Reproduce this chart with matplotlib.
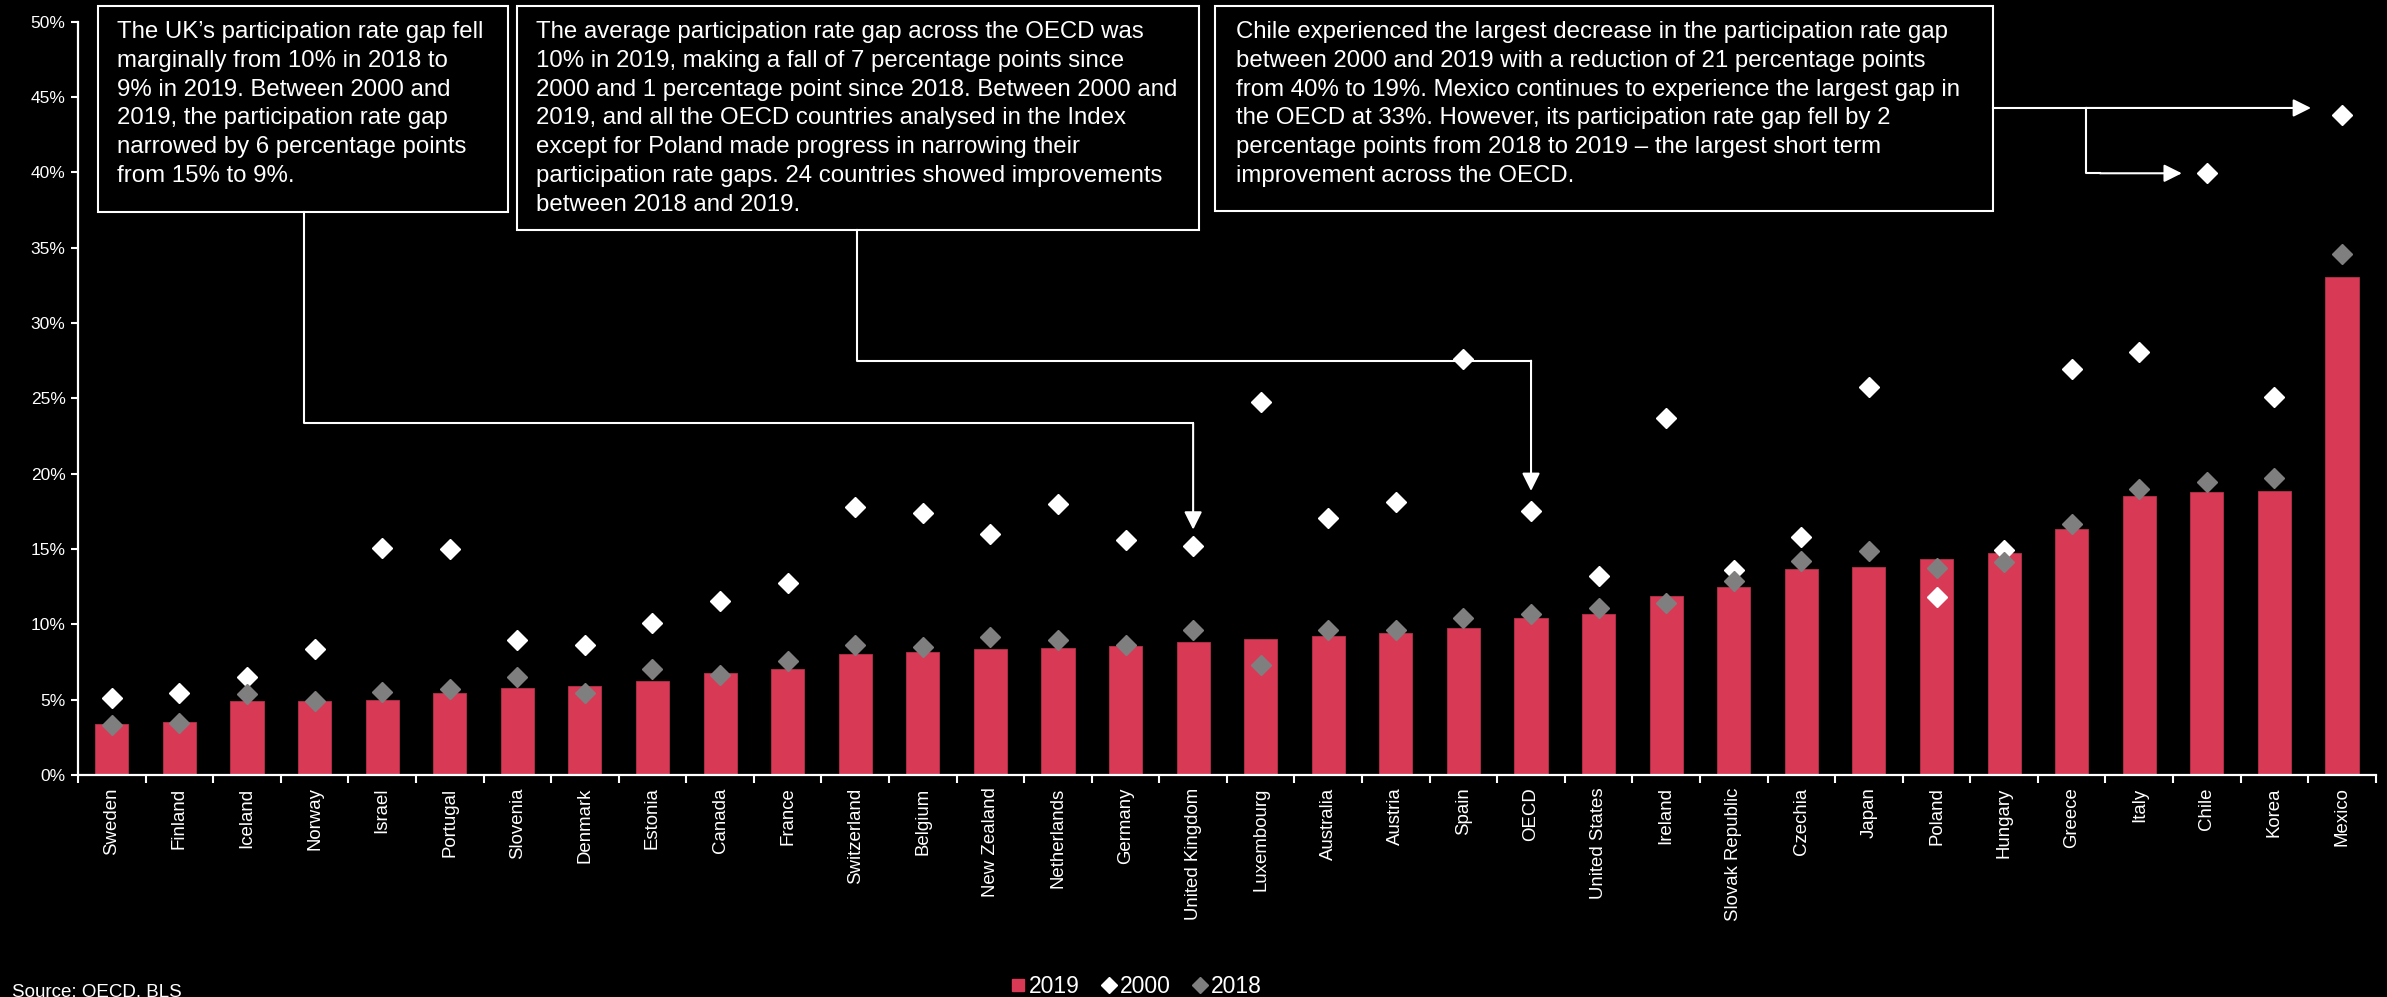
import numpy as np
import matplotlib
matplotlib.use("Agg")
import matplotlib.pyplot as plt
from matplotlib.lines import Line2D
from matplotlib.patches import Rectangle, FancyArrowPatch

plt.rcParams['font.family'] = ['Liberation Sans', 'DejaVu Sans']

countries = ['Sweden', 'Finland', 'Iceland', 'Norway', 'Israel', 'Portugal', 'Slovenia', 'Denmark',
             'Estonia', 'Canada', 'France', 'Switzerland', 'Belgium', 'New Zealand', 'Netherlands',
             'Germany', 'United Kingdom', 'Luxembourg', 'Australia', 'Austria', 'Spain', 'OECD',
             'United States', 'Ireland', 'Slovak Republic', 'Czechia', 'Japan', 'Poland', 'Hungary',
             'Greece', 'Italy', 'Chile', 'Korea', 'Mexico']
gap_2019 = [3.41, 3.50, 4.89, 4.89, 4.98, 5.42, 5.75, 5.93, 6.26, 6.77, 7.06, 8.05, 8.16, 8.36, 8.43,
            8.58, 8.83, 9.03, 9.23, 9.45, 9.76, 10.42, 10.68, 11.90, 12.48, 13.67, 13.78, 14.31, 14.75,
            16.35, 18.51, 18.80, 18.87, 33.05]
gap_2000 = [5.09, 5.42, 6.52, 8.34, 15.04, 15.00, 8.96, 8.63, 10.10, 11.55, 12.76, 17.80, 17.37, 15.97,
            17.98, 15.60, 15.22, 24.77, 17.07, 18.12, 27.60, 17.52, 13.20, 23.70, 13.60, 15.79, 25.73,
            11.79, 14.93, 26.96, 28.05, 39.93, 25.08, 43.80]
gap_2018 = [3.34, 3.43, 5.35, 4.91, 5.51, 5.71, 6.50, 5.42, 7.01, 6.62, 7.54, 8.60, 8.52, 9.18, 8.94,
            8.60, 9.60, 7.28, 9.65, 9.62, 10.40, 10.70, 11.06, 11.41, 12.87, 14.20, 14.84, 13.76, 14.16,
            16.66, 19.00, 19.44, 19.70, 34.55]
yticks = [0, 5, 10, 15, 20, 25, 30, 35, 40, 45, 50]
legend_labels = ['2019', '2000', '2018']

note_uk = ("The UK\u2019s participation rate gap fell\n"
           "marginally from 10% in 2018 to\n"
           "9% in 2019. Between 2000 and\n"
           "2019, the participation rate gap\n"
           "narrowed by 6 percentage points\n"
           "from 15% to 9%.")
note_oecd = ("The average participation rate gap across the OECD was\n"
             "10% in 2019, making a fall of 7 percentage points since\n"
             "2000 and 1 percentage point since 2018. Between 2000 and\n"
             "2019, and all the OECD countries analysed in the Index\n"
             "except for Poland made progress in narrowing their\n"
             "participation rate gaps. 24 countries showed improvements\n"
             "between 2018 and 2019.")
note_chile = ("Chile experienced the largest decrease in the participation rate gap\n"
              "between 2000 and 2019 with a reduction of 21 percentage points\n"
              "from 40% to 19%. Mexico continues to experience the largest gap in\n"
              "the OECD at 33%. However, its participation rate gap fell by 2\n"
              "percentage points from 2018 to 2019 \u2013 the largest short term\n"
              "improvement across the OECD.")

W, H = 2387, 997
RED = '#D83A56'
GREY = '#7F7F7F'


def P(x, y):
    # pixel position (from top-left) -> figure fraction
    return (x / W, 1 - y / H)


def data_px(ax, i, v):
    # data point -> pixel position measured from top-left
    dx, dy = ax.transData.transform((i, v))
    return dx, H - dy


fig = plt.figure(figsize=(W / 100, H / 100), dpi=100, facecolor='black')
ax = fig.add_axes([0.0327, 0.2227, 0.9626, 0.7557], facecolor='black')

x = np.arange(len(countries))
ax.bar(x, gap_2019, width=0.49, color=RED, edgecolor='#B8304A', linewidth=0.6, zorder=2)
ax.plot(x, gap_2000, ls='none', marker='D', ms=10.5, color='white', zorder=3)
ax.plot(x, gap_2018, ls='none', marker='D', ms=10.5, color=GREY, zorder=4)

ax.set_xlim(-0.5, len(countries) - 0.5)
ax.set_ylim(0, 50)
ax.set_yticks(yticks)
ax.set_yticklabels([f'{t}%' for t in yticks])
ax.set_xticks(x)
ax.set_xticklabels(countries, rotation=90)
ax.set_xticks(np.arange(-0.5, len(countries)), minor=True)
ax.tick_params(axis='x', which='major', length=0, pad=9, labelsize=13.4, colors='white')
ax.tick_params(axis='x', which='minor', length=6, width=1.5, direction='out', color='white')
ax.tick_params(axis='y', length=5, width=1.5, direction='out', colors='white', labelsize=12.5, pad=4)
for s in ['top', 'right']:
    ax.spines[s].set_visible(False)
for s in ['left', 'bottom']:
    ax.spines[s].set_color('white')
    ax.spines[s].set_linewidth(1.6)

# text boxes
boxes = [(97.6, 5.7, 508, 211.7, note_uk, 117),
         (517, 5.7, 1198.6, 230, note_oecd, 535.7),
         (1215, 5.7, 1992.6, 211, note_chile, 1235.6)]
for x0, y0, x1, y1, txt, tx in boxes:
    fig.add_artist(Rectangle(P(x0, y1), (x1 - x0) / W, (y1 - y0) / H, transform=fig.transFigure,
                             facecolor='black', edgecolor='white', lw=1.5, zorder=5))
    fig.text(*P(tx, 21), txt, color='white', fontsize=17.25, va='top', ha='left',
             linespacing=1.4, zorder=6)


def connector(points, tip):
    xs = [P(px, py)[0] for px, py in points]
    ys = [P(px, py)[1] for px, py in points]
    fig.add_artist(Line2D(xs, ys, transform=fig.transFigure, color='white', lw=1.5, zorder=5))
    fig.add_artist(FancyArrowPatch(P(*points[-1]), P(*tip), transform=fig.transFigure,
                                   arrowstyle='-|>,head_length=0.6,head_width=0.3',
                                   mutation_scale=18, color='white', lw=1.5,
                                   shrinkA=0, shrinkB=0, zorder=5))


uk = countries.index('United Kingdom')
oecd = countries.index('OECD')
chile = countries.index('Chile')
mexico = countries.index('Mexico')

ux, uy = data_px(ax, uk, gap_2000[uk])
connector([(303.5, 211.7), (303.5, 423.3), (ux, 423.3)], (ux, uy - 16))
ox, oy = data_px(ax, oecd, gap_2000[oecd])
connector([(857, 230), (857, 360.7), (ox, 360.7)], (ox, oy - 20))
mx, my = data_px(ax, mexico, gap_2000[mexico])
connector([(1992.6, my - 7), (2086, my - 7)], (mx - 31, my - 7))
cx, cy = data_px(ax, chile, gap_2000[chile])
connector([(2086, my - 7), (2086, cy), (2100, cy)], (cx - 25, cy))

handles = [Line2D([], [], ls='none', marker='s', ms=8.5, color=RED),
           Line2D([], [], ls='none', marker='D', ms=8, color='white'),
           Line2D([], [], ls='none', marker='D', ms=8, color=GREY)]
leg = fig.legend(handles, legend_labels, loc='center', bbox_to_anchor=(0.4759, 0.011), ncol=3,
                 frameon=False, fontsize=16.5, handlelength=0.7, handletextpad=0.15,
                 columnspacing=0.9, borderpad=0)
for t in leg.get_texts():
    t.set_color('white')

fig.text(*P(12, 996), 'Source: OECD, BLS', color='white', fontsize=13.5, va='baseline', ha='left')

fig.savefig('out.png', dpi=100, facecolor='black')
